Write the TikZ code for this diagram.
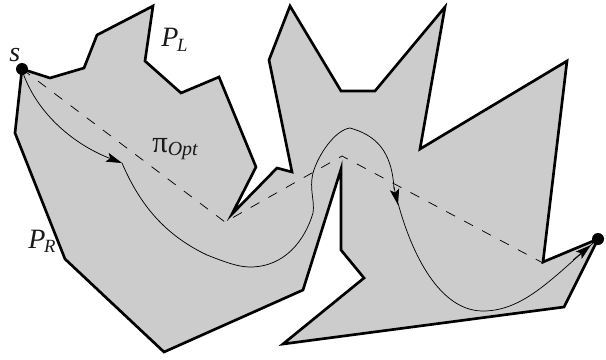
\documentclass[tikz,border=0pt]{standalone}
\usepackage{fontspec}
\setmainfont{Liberation Serif}
\usetikzlibrary{arrows.meta}
\tikzset{
  poly/.style={draw=black,fill=black!20,line width=2pt,line join=miter,miter limit=12},
  shortest/.style={draw=black,dash pattern=on 7.5pt off 7.7pt,line width=0.55pt},
  walk/.style={draw=black,line width=0.55pt},
  tip/.style={-{Stealth[length=12pt,width=7pt,inset=2.5pt]},draw=black,line width=0.55pt},
  lab/.style={text=black!90,font=\itshape\fontsize{21pt}{22pt}\selectfont,inner sep=0pt,anchor=base west},
  terminal/.style={circle,fill=black,inner sep=0pt,minimum size=9pt}
}
\newcommand{\lsub}[1]{\raisebox{-3pt}{\kern-1pt\fontsize{14pt}{14pt}\selectfont #1}}
\begin{document}
\begin{tikzpicture}[x=0.75pt,y=-0.75pt]
\useasboundingbox (0,0) rectangle (606,360);
\draw[poly] (22,69) -- (50,78) -- (84,68) -- (97,35) -- (153,6) -- (145,61) -- (181,93) -- (219,77) -- (256,167) -- (232,214) -- (277,168) -- (292,172) -- (269,60) -- (290,6) -- (341,91) -- (375,91) -- (445,7) -- (420,149) -- (567,61) -- (543,262) -- (598,239) -- (564,307) -- (283,344) -- (364,278) -- (341,250) -- (341,169) -- (303,290) -- (164,352) -- (65,259) -- (15,133) -- cycle;
\coordinate (a) at (22,69);
\coordinate (b) at (225,222);
\coordinate (c) at (342,156);
\coordinate (d) at (543,263);
\coordinate (e) at (598,239);
\draw[shortest] (a) -- (b) -- (c) -- (d) -- (e);
\draw[walk] (122,163) .. controls (140,205) and (165,235) .. (207,255) .. controls (225,262) and (238,267) .. (250,267) .. controls (285,267) and (305,240) .. (313,213) .. controls (315,200) and (309,190) .. (313,173) .. controls (318,155) and (335,130) .. (350,128) .. controls (375,135) and (392,150) .. (394,189);
\draw[tip] (23,73) .. controls (38,115) and (75,145) .. (122,163);
\draw[tip] (394,187) -- (398,205);
\draw[walk] (398,203) .. controls (412,255) and (440,311) .. (483,311) .. controls (525,311) and (555,275) .. (598,239);
\draw[tip] (573,260) -- (591,245);
\node[terminal] (s) at (22,69) {};
\node[terminal] (t) at (598,239) {};
\node[lab] (ls) at (9,61) {s};
\node[lab] (lpl) at (161,47) {P\lsub{L}};
\node[lab] (lpr) at (28,248) {P\lsub{R}};
\node[lab] (lpi) at (152,152) {\upshape\fontsize{23pt}{23pt}\selectfont π\raisebox{-2.5pt}{\itshape\fontsize{15pt}{15pt}\selectfont Opt}};
\end{tikzpicture}
\end{document}
